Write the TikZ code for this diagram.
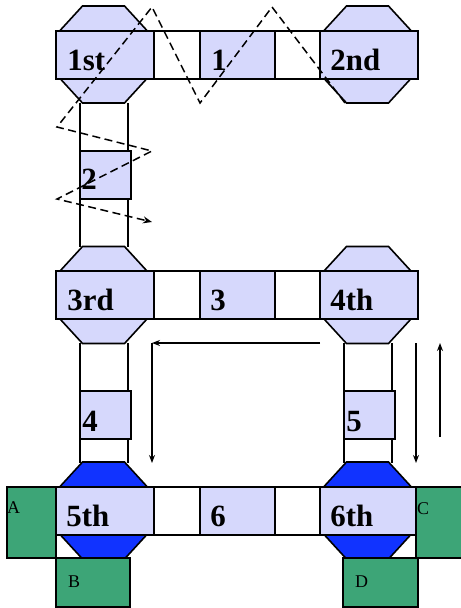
\documentclass[tikz,border=0pt]{standalone}
\usepackage{fontspec}
\setmainfont{Liberation Serif}
\usetikzlibrary{arrows.meta,calc}
\definecolor{lb}{RGB}{214,216,252}
\definecolor{db}{RGB}{17,51,255}
\definecolor{gr}{RGB}{61,165,119}
\tikzset{
  x=1bp, y=-1bp,
  edge/.style={line width=1.6bp, draw=black},
  octo/.pic={\path[pic actions] (-21,-48.5) -- (21,-48.5) -- (43,-24.5) -- (43,24.5) -- (21,48.5) -- (-21,48.5) -- (-43,24.5) -- (-43,-24.5) -- cycle;},
  bigbox/.style={edge, fill=lb, minimum width=98bp, minimum height=48bp, inner sep=0pt},
  conn/.style={edge, fill=white, minimum width=166bp, minimum height=48bp, inner sep=0pt},
  rowbox/.style={edge, fill=lb, minimum width=75bp, minimum height=48bp, inner sep=0pt},
  colbox/.style={edge, fill=lb, minimum width=51bp, minimum height=48bp, inner sep=0pt},
  greenbox/.style={edge, fill=gr},
  lbl/.style={anchor=base west, inner sep=0pt, font=\fontsize{31}{31}\selectfont\bfseries},
  glbl/.style={anchor=base west, inner sep=0pt, font=\fontsize{18}{18}\selectfont},
  arr/.style={line width=1.4bp, -{Stealth[length=8bp,width=6bp]}},
  zig/.style={line width=1.5bp, dash pattern=on 8bp off 4.5bp, -{Stealth[length=9bp,width=7bp]}}
}
\begin{document}
\begin{tikzpicture}
\useasboundingbox (0,0) rectangle (461,608);

% column side lines
\draw[edge] (80,103) -- (80,247) (128,103) -- (128,247);
\draw[edge] (80,343) -- (80,463) (128,343) -- (128,463);
\draw[edge] (344,343) -- (344,463) (392,343) -- (392,463);

% octagons
\pic[edge, fill=lb] at (103.5,54.5) {octo};
\pic[edge, fill=lb] at (367.5,54.5) {octo};
\pic[edge, fill=lb] at (103.5,295) {octo};
\pic[edge, fill=lb] at (367.5,295) {octo};
\pic[edge, fill=db] at (103.5,510.5) {octo};
\pic[edge, fill=db] at (367.5,510.5) {octo};

% row connectors
\node[conn] (c1) at (237,55) {};
\node[conn] (c3) at (237,295) {};
\node[conn] (c6) at (237,511) {};

% big boxes
\node[bigbox] (b1st) at (105,55) {};
\node[bigbox] (b2nd) at (369,55) {};
\node[bigbox] (b3rd) at (105,295) {};
\node[bigbox] (b4th) at (369,295) {};
\node[bigbox] (b5th) at (105,511) {};
\node[bigbox] (b6th) at (369,511) {};

% row boxes
\node[rowbox] (s1) at (237.5,55) {};
\node[rowbox] (s3) at (237.5,295) {};
\node[rowbox] (s6) at (237.5,511) {};

% column boxes
\node[colbox] (s2) at (105.5,175) {};
\node[colbox] (s4) at (105.5,415) {};
\node[colbox] (s5) at (369.5,415) {};

% labels
\node[lbl] at ($(b1st.north west)+(12,40)$) {1st};
\node[lbl] at ($(b2nd.north west)+(11,40)$) {2nd};
\node[lbl] at ($(b3rd.north west)+(12,40)$) {3rd};
\node[lbl] at ($(b4th.north west)+(11,40)$) {4th};
\node[lbl] at ($(b5th.north west)+(11,40)$) {5th};
\node[lbl] at ($(b6th.north west)+(11,40)$) {6th};
\node[lbl] at ($(s1.north west)+(12,40)$) {1};
\node[lbl] at ($(s3.north west)+(11,40)$) {3};
\node[lbl] at ($(s6.north west)+(11,40)$) {6};
\node[lbl] at ($(s2.north west)+(2,39)$) {2};
\node[lbl] at ($(s4.north west)+(3,41)$) {4};
\node[lbl] at ($(s5.north west)+(3,41)$) {5};

% green boxes
\draw[greenbox] (7,487) rectangle (56,558);
\draw[greenbox] (56,558) rectangle (130,607);
\draw[greenbox] (416,487) rectangle (470,558);
\draw[greenbox] (343,558) rectangle (418,607);
\node[glbl] at (7,513) {A};
\node[glbl] at (68,587) {B};
\node[glbl] at (417,514) {C};
\node[glbl] at (355,587) {D};

% arrows
\coordinate (h1) at (320,343);
\coordinate (h2) at (152,343);
\coordinate (h3) at (152,463);
\coordinate (r1) at (416,343);
\coordinate (r2) at (416,463);
\coordinate (u1) at (440,437);
\coordinate (u2) at (440,343);
\draw[arr] (h1) -- (h2);
\draw[arr] (h2) -- (h3);
\draw[arr] (r1) -- (r2);
\draw[arr] (u1) -- (u2);

% dashed zigzag
\coordinate (z0) at (345,103);
\coordinate (z1) at (272,7);
\coordinate (z2) at (200,103);
\coordinate (z3) at (152,7);
\coordinate (z4) at (57,127);
\coordinate (z5) at (152,151);
\coordinate (z6) at (57,199);
\coordinate (z7) at (152,222);
\draw[zig] (z0) -- (z1) -- (z2) -- (z3) -- (z4) -- (z5) -- (z6) -- (z7);
\end{tikzpicture}
\end{document}
